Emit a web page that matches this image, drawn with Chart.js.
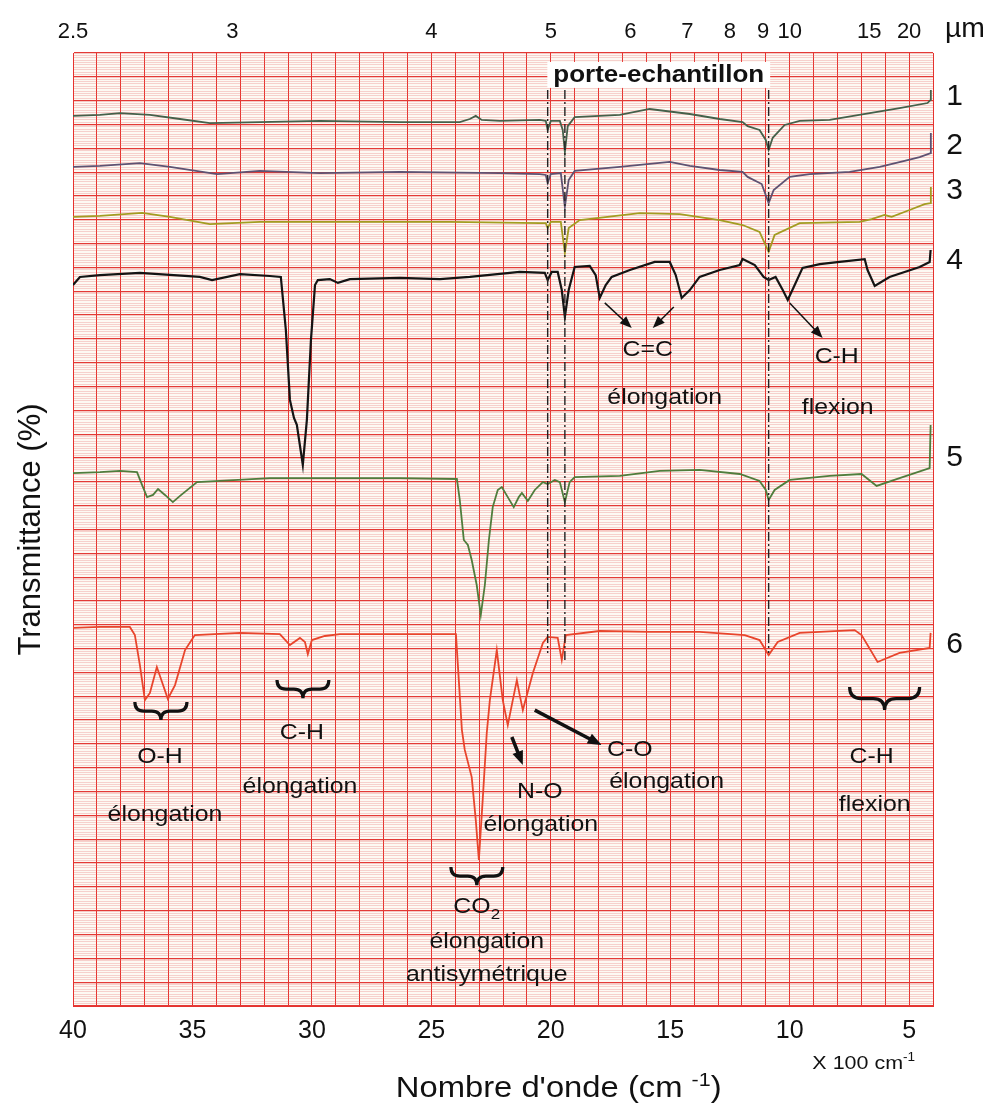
<!DOCTYPE html>
<html>
<head>
<meta charset="utf-8">
<script src="https://cdn.jsdelivr.net/npm/chart.js@4.4.0/dist/chart.umd.min.js"></script>
<style>
  body { margin: 0; background: #fff; }
  #wrap { width: 993px; height: 1104px; }
</style>
</head>
<body>
<div id="wrap"><canvas id="ir"></canvas></div>
<script>
// wavenumber in units of 100 cm-1, transmittance in chart divisions (0-400, traces offset)
var wn1 = [40.0, 38.87, 38.03, 36.78, 35.52, 34.27, 32.18, 29.67, 26.32, 23.81, 23.39, 23.14, 22.89, 22.13, 20.46, 20.21, 20.13, 20.0, 19.62, 19.5, 19.41, 19.29, 19.0, 17.11, 15.86, 14.18, 12.93, 11.97, 11.76, 11.26, 11.0, 10.88, 10.71, 10.21, 9.58, 8.33, 6.65, 5.4, 4.23, 4.1, 4.09];
var t1 = [373.6, 374.0, 374.8, 374.0, 372.3, 370.6, 371.0, 371.5, 371.0, 371.0, 372.3, 373.6, 371.9, 371.5, 371.9, 371.5, 367.7, 371.5, 371.5, 367.7, 358.4, 369.3, 373.1, 374.0, 376.5, 374.4, 372.3, 371.0, 369.3, 367.7, 363.5, 359.3, 364.4, 369.8, 371.5, 371.9, 374.8, 376.9, 379.0, 380.3, 384.5];

var wn2 = [40.0, 38.87, 37.2, 35.94, 33.97, 32.18, 29.67, 26.32, 22.13, 20.46, 20.21, 20.13, 20.0, 19.58, 19.41, 19.25, 19.0, 17.11, 15.02, 14.18, 12.93, 11.97, 11.76, 11.17, 10.88, 10.67, 10.0, 9.16, 7.49, 6.23, 5.19, 4.56, 4.1, 4.09];
var t2 = [352.2, 352.6, 353.8, 352.2, 349.2, 350.5, 349.6, 350.1, 349.6, 349.2, 348.8, 345.4, 349.2, 349.6, 335.4, 346.7, 350.5, 352.2, 354.3, 352.6, 350.9, 350.1, 348.0, 345.0, 337.0, 342.5, 348.0, 349.2, 350.1, 352.2, 354.7, 356.3, 358.0, 366.4];

var wn3 = [40.0, 38.87, 37.11, 35.94, 34.27, 32.18, 28.41, 24.23, 20.46, 20.21, 20.13, 20.0, 19.58, 19.41, 19.25, 18.79, 16.28, 14.6, 12.93, 11.97, 11.26, 10.88, 10.63, 9.58, 7.07, 6.57, 6.03, 5.73, 4.98, 4.35, 4.1, 4.09];
var t3 = [331.2, 331.6, 332.9, 331.2, 328.2, 329.1, 329.1, 329.1, 328.6, 328.6, 326.5, 329.1, 329.1, 316.1, 326.5, 329.9, 332.8, 332.4, 329.9, 327.8, 324.9, 316.5, 323.6, 328.6, 329.1, 330.3, 332.0, 331.2, 334.1, 336.6, 337.0, 343.8];

var wn4 = [40.0, 39.71, 38.87, 37.2, 34.69, 34.18, 33.01, 31.76, 31.3, 31.09, 30.92, 30.75, 30.63, 30.38, 30.21, 30.04, 29.87, 29.75, 29.25, 28.91, 28.41, 26.32, 24.64, 23.39, 21.3, 20.25, 20.13, 19.96, 19.71, 19.54, 19.41, 19.25, 19.0, 18.37, 18.12, 17.95, 17.7, 17.45, 16.69, 15.65, 15.02, 14.77, 14.52, 14.18, 13.77, 12.93, 12.09, 11.97, 11.46, 11.09, 10.88, 10.59, 10.29, 10.08, 9.79, 9.46, 8.74, 7.91, 6.86, 6.74, 6.44, 5.82, 5.19, 4.56, 4.14, 4.1];
var t4 = [302.6, 306.0, 306.8, 307.7, 306.0, 304.7, 307.2, 306.4, 306.0, 283.8, 254.4, 246.8, 243.9, 227.1, 246.0, 279.5, 302.6, 304.7, 305.1, 303.5, 305.1, 305.6, 305.1, 306.0, 308.1, 307.7, 304.7, 308.1, 308.1, 300.5, 289.2, 300.5, 310.2, 310.6, 306.8, 297.2, 302.6, 306.0, 308.9, 312.3, 312.3, 306.8, 297.2, 300.5, 306.0, 308.9, 311.0, 313.5, 311.0, 306.0, 304.7, 306.0, 300.5, 296.3, 302.6, 309.8, 311.4, 312.3, 313.5, 308.9, 302.2, 306.0, 308.1, 310.2, 312.3, 317.3];

var wn5 = [40.0, 38.87, 38.03, 37.32, 37.11, 36.9, 36.65, 36.44, 36.15, 35.82, 35.52, 34.81, 33.85, 31.76, 29.25, 26.32, 23.93, 23.81, 23.64, 23.47, 23.31, 23.1, 22.93, 22.76, 22.59, 22.43, 22.22, 22.05, 21.8, 21.55, 21.34, 21.21, 20.96, 20.67, 20.33, 20.13, 19.83, 19.62, 19.41, 19.21, 19.0, 17.11, 15.44, 13.77, 12.09, 11.26, 11.0, 10.88, 10.63, 10.0, 8.33, 6.99, 6.36, 5.4, 4.77, 4.14, 4.1];
var t5 = [223.7, 224.1, 224.6, 224.1, 218.7, 213.6, 214.5, 217.0, 214.5, 211.5, 214.1, 219.9, 220.4, 221.6, 221.6, 221.6, 221.2, 212.4, 195.6, 193.5, 187.2, 176.7, 164.1, 176.7, 195.6, 209.4, 216.6, 217.8, 213.6, 209.4, 213.6, 215.3, 212.0, 216.6, 219.9, 219.1, 220.8, 219.9, 211.5, 219.9, 222.0, 222.5, 224.6, 225.0, 223.3, 220.4, 216.6, 212.4, 216.6, 220.8, 222.5, 223.3, 218.3, 221.6, 223.7, 225.8, 243.9];

var wn6 = [40.0, 38.87, 37.62, 37.41, 37.2, 36.99, 36.78, 36.49, 36.23, 36.03, 35.73, 35.31, 34.9, 33.01, 31.34, 30.92, 30.5, 30.29, 30.17, 30.0, 29.46, 28.83, 26.32, 23.97, 23.85, 23.72, 23.6, 23.31, 23.14, 23.01, 22.85, 22.68, 22.55, 22.26, 22.01, 21.8, 21.59, 21.42, 21.3, 21.17, 20.75, 20.33, 20.13, 19.71, 19.54, 19.37, 17.95, 15.86, 13.77, 11.88, 11.26, 10.88, 10.5, 9.58, 8.74, 7.28, 6.99, 6.32, 5.4, 4.14, 4.1];
var t6 = [158.7, 159.1, 159.1, 155.7, 143.1, 128.4, 131.4, 142.3, 134.7, 128.9, 134.7, 149.4, 155.7, 156.6, 156.1, 151.5, 154.5, 152.8, 147.7, 153.6, 155.3, 156.1, 156.1, 156.1, 136.8, 115.8, 107.5, 96.1, 78.1, 61.3, 86.5, 114.6, 128.4, 149.4, 128.4, 117.9, 128.4, 136.8, 130.5, 124.2, 139.8, 152.4, 154.9, 154.5, 145.2, 155.7, 157.4, 157.0, 157.0, 155.7, 153.6, 147.3, 152.8, 156.6, 157.0, 157.8, 155.7, 144.4, 148.2, 150.3, 156.6];

var traceNames = ["1", "2", "3", "4", "5", "6"];
var bottomTicks = [40, 35, 30, 25, 20, 15, 10, 5];
var micronTicks = [2.5, 3, 4, 5, 6, 7, 8, 9, 10, 15, 20];

// annotations, anchored in data units
var nameSpots = [381.5, 361.0, 342.0, 313.0, 230.0, 151.5];
var holderLines = [[20.13, 384.5, 148.2], [19.41, 384.5, 144.0], [10.88, 384.5, 148.2]];
var notes = [
  ["C=C", 15.94, 275.3], ["élongation", 15.23, 255.2],
  ["C-H", 8.03, 272.4], ["flexion", 7.99, 251.0],
  ["O-H", 36.36, 104.5], ["élongation", 36.15, 80.2],
  ["C-H", 30.42, 114.6], ["élongation", 30.50, 91.9],
  ["élongation", 22.68, 26.9], ["antisymétrique", 22.68, 13.0],
  ["N-O", 20.46, 89.8], ["élongation", 20.42, 76.0],
  ["C-O", 16.69, 107.5], ["élongation", 15.15, 94.0],
  ["C-H", 6.57, 104.5], ["flexion", 6.44, 84.4]
];
var braces = [[37.41, 35.23, 127.6, 7.6], [31.46, 29.29, 136.8, 7.6], [24.18, 22.01, 58.3, 7.6], [7.49, 4.56, 133.9, 9.7]];
var arrows = [
  [17.74, 295.1, 16.61, 284.6, 1.5], [14.85, 293.4, 15.73, 284.6, 1.5], [10.00, 295.1, 8.62, 280.4, 1.5],
  [21.63, 112.9, 21.17, 101.2, 3.5], [20.67, 124.2, 17.87, 109.5, 3.5]
];

var colors = ["#45604a", "#5e5272", "#a39c22", "#141414", "#4f7d3c", "#e8452c"];
var FONT = "'Liberation Sans', Arial, sans-serif";
var STRETCH = 1.13;

function at(chart, wn, t) {
    return { x: chart.scales.x.getPixelForValue(wn), y: chart.scales.y.getPixelForValue(t) };
}

function write(c, text, x, y, size, weight, sx) {
    c.save();
    c.font = (weight || "normal") + " " + size + "px " + FONT;
    c.fillStyle = "#111";
    c.textAlign = "center";
    c.textBaseline = "middle";
    c.translate(x, y);
    c.scale(sx || STRETCH, 1);
    c.fillText(text, 0, 0);
    c.restore();
}

// runs of [text, size, dy] on one baseline, centred on x
function writeRuns(c, runs, x, y) {
    c.save();
    c.fillStyle = "#111";
    c.textBaseline = "alphabetic";
    c.textAlign = "left";
    var total = 0;
    runs.forEach(function (r) { c.font = r[1] + "px " + FONT; total += c.measureText(r[0]).width; });
    c.translate(x, y);
    c.scale(STRETCH, 1);
    var cx = -total / 2;
    runs.forEach(function (r) {
        c.font = r[1] + "px " + FONT;
        c.fillText(r[0], cx, r[2]);
        cx += c.measureText(r[0]).width;
    });
    c.restore();
}

function brace(c, xa, xb, y, h) {
    var x1 = Math.min(xa, xb), x2 = Math.max(xa, xb), xm = (x1 + x2) / 2, r = h / 2;
    c.beginPath();
    c.moveTo(x1, y);
    c.quadraticCurveTo(x1, y + r, x1 + r, y + r);
    c.lineTo(xm - r, y + r);
    c.quadraticCurveTo(xm, y + r, xm, y + h);
    c.quadraticCurveTo(xm, y + r, xm + r, y + r);
    c.lineTo(x2 - r, y + r);
    c.quadraticCurveTo(x2, y + r, x2, y);
    c.stroke();
}

function arrow(c, p, q, w) {
    var head = w > 2 ? 15 : 13;
    var ang = Math.atan2(q.y - p.y, q.x - p.x);
    c.lineWidth = w;
    c.beginPath();
    c.moveTo(p.x, p.y);
    c.lineTo(q.x - Math.cos(ang) * head * 0.7, q.y - Math.sin(ang) * head * 0.7);
    c.stroke();
    c.beginPath();
    c.moveTo(q.x, q.y);
    c.lineTo(q.x - head * Math.cos(ang - 0.38), q.y - head * Math.sin(ang - 0.38));
    c.lineTo(q.x - head * Math.cos(ang + 0.38), q.y - head * Math.sin(ang + 0.38));
    c.closePath();
    c.fill();
}

var paper = {
    id: "paper",
    beforeDraw: function (chart) {
        var a = chart.chartArea, c = chart.ctx;
        c.save();
        c.fillStyle = "#fdf9f3";
        c.fillRect(a.left, a.top, a.right - a.left, a.bottom - a.top);
        c.restore();
    },
    afterDatasetsDraw: function (chart) {
        var c = chart.ctx;
        c.save();
        c.strokeStyle = "#222";
        c.fillStyle = "#111";
        c.lineWidth = 1.4;
        c.setLineDash([9, 3, 2, 3]);
        holderLines.forEach(function (l) {
            var p = at(chart, l[0], l[1]), q = at(chart, l[0], l[2]);
            c.beginPath();
            c.moveTo(p.x, p.y);
            c.lineTo(q.x, q.y);
            c.stroke();
        });
        c.setLineDash([]);

        // porte-echantillon box
        var pp = at(chart, 15.48, 390.8);
        c.font = "bold 23px " + FONT;
        var bw = c.measureText("porte-echantillon").width * STRETCH + 12;
        c.fillStyle = "#fff";
        c.fillRect(pp.x - bw / 2, pp.y - 13, bw, 26);
        write(c, "porte-echantillon", pp.x, pp.y + 1, 23, "bold");

        notes.forEach(function (n) {
            var p = at(chart, n[1], n[2]);
            write(c, n[0], p.x, p.y, 22);
        });
        var co = at(chart, 23.10, 42.4);
        writeRuns(c, [["CO", 22, 0], ["2", 15, 6]], co.x, co.y + 8);

        c.strokeStyle = "#111";
        c.fillStyle = "#111";
        c.lineWidth = 3.2;
        braces.forEach(function (b) {
            var p = at(chart, b[0], b[2]), q = at(chart, b[1], b[2]);
            var h = chart.scales.y.getPixelForValue(b[2] - b[3]) - p.y;
            brace(c, p.x, q.x, p.y, h);
        });
        arrows.forEach(function (r) {
            arrow(c, at(chart, r[0], r[1]), at(chart, r[2], r[3]), r[4]);
        });

        // trace numbers at the right margin
        traceNames.forEach(function (name, i) {
            var p = at(chart, 3.1, nameSpots[i]);
            write(c, name, p.x, p.y, 30, "normal", 1.0);
        });
        c.restore();
    },
    afterDraw: function (chart) {
        var c = chart.ctx, a = chart.chartArea;
        c.save();
        c.fillStyle = "#111";
        c.font = "27px " + FONT;
        c.textBaseline = "alphabetic";
        c.save();
        c.translate(a.right + 12, 37);
        c.scale(1.05, 1);
        c.fillText("µm", 0, 0);
        c.restore();
        var nx = chart.scales.x.getPixelForValue(19.67);
        writeRuns(c, [["Nombre d'onde (cm ", 29, 0], ["-1", 19, -11], [")", 29, 0]], nx, a.bottom + 91);
        var ux = chart.scales.x.getPixelForValue(6.9);
        writeRuns(c, [["X 100 cm", 19, 0], ["-1", 12, -8]], ux, a.bottom + 63);
        c.restore();
    }
};

function series(wn, t) {
    return wn.map(function (w, i) { return { x: w, y: t[i] }; });
}
var allWn = [wn1, wn2, wn3, wn4, wn5, wn6];
var allT = [t1, t2, t3, t4, t5, t6];

Chart.defaults.font.family = FONT;
Chart.defaults.color = "#111";

var ctx = document.getElementById("ir");
var ir = new Chart(ctx, {
    type: "line",
    data: {
        datasets: traceNames.map(function (name, i) {
            return {
                label: name,
                data: series(allWn[i], allT[i]),
                borderColor: colors[i],
                borderWidth: i === 3 ? 2.2 : 1.8,
                pointRadius: 0,
                tension: 0
            };
        })
    },
    options: {
        responsive: true,
        maintainAspectRatio: false,
        animation: false,
        devicePixelRatio: 1,
        layout: { padding: { left: 0, top: 0, right: 60, bottom: 0 } },
        plugins: {
            legend: { display: false },
            tooltip: { enabled: false }
        },
        scales: {
            x: {
                type: "linear",
                position: "bottom",
                reverse: true,
                min: 4,
                max: 40,
                afterFit: function (s) { s.height = 98; },
                grid: { color: "#e6322e", lineWidth: 1, drawTicks: false },
                border: { color: "#e6322e" },
                ticks: {
                    stepSize: 1,
                    autoSkip: false,
                    maxRotation: 0,
                    padding: 10,
                    font: { size: 25 },
                    callback: function (v) { return bottomTicks.indexOf(v) >= 0 ? String(v) : ""; }
                }
            },
            x2: {
                type: "linear",
                position: "top",
                reverse: true,
                min: 4,
                max: 40,
                afterFit: function (s) { s.height = 53; },
                afterBuildTicks: function (s) {
                    s.ticks = micronTicks.map(function (u) { return { value: 100 / u }; });
                },
                grid: { display: false, drawTicks: false },
                border: { display: false },
                ticks: {
                    autoSkip: false,
                    maxRotation: 0,
                    padding: 8,
                    font: { size: 22 },
                    callback: function (v, i) { return String(micronTicks[i]); }
                }
            },
            y: {
                type: "linear",
                min: 0,
                max: 400,
                afterFit: function (s) { s.width = 73; },
                ticks: { display: false, stepSize: 1 },
                grid: {
                    drawTicks: false,
                    color: function (c) { return c.tick.value % 10 === 0 ? "#e33a36" : "rgba(232,110,110,0.36)"; },
                    lineWidth: function (c) { return c.tick.value % 10 === 0 ? 1.2 : 0.8; }
                },
                border: { color: "#e6322e" },
                title: {
                    display: true,
                    text: "Transmittance (%)",
                    font: { size: 31 },
                    padding: { top: 13, bottom: 0 }
                }
            }
        }
    },
    plugins: [paper]
});
</script>
</body>
</html>
